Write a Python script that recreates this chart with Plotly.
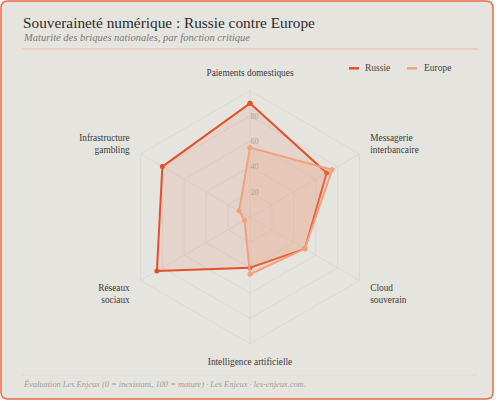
import plotly.graph_objects as go

W, H = 500, 407

categories = ["Paiements domestiques", "Messagerie<br>interbancaire", "Cloud<br>souverain",
              "Intelligence artificielle", "Réseaux<br>sociaux", "Infrastructure<br>gambling"]
russie = [90, 70, 50, 40, 85, 80]
europe = [55, 75, 50, 45, 5, 10]
series_names = ["Russie", "Europe"]
radial_ticks = [20, 40, 60, 80]

title = "Souveraineté numérique : Russie contre Europe"
subtitle = "Maturité des briques nationales, par fonction critique"
footer = "Évaluation Les Enjeux (0 = inexistant, 100 = mature) · Les Enjeux · les-enjeux.com."

C_RU = "#e5502b"
C_EU = "#f0a27c"
BG = "#e6e4df"
SERIF = "Liberation Serif, DejaVu Serif, serif"

def px(x):
    return x / W

def py(y):
    return 1 - y / H

fig = go.Figure()

def closed(v):
    return list(v) + [v[0]]

fig.add_trace(go.Scatterpolar(
    r=closed(russie), theta=closed(categories), name=series_names[0],
    mode="lines+markers", fill="toself", fillcolor="rgba(232,80,45,0.11)",
    line=dict(color=C_RU, width=2), marker=dict(size=5, color=C_RU),
))
fig.add_trace(go.Scatterpolar(
    r=closed(europe), theta=closed(categories), name=series_names[1],
    mode="lines+markers", fill="toself", fillcolor="rgba(240,160,120,0.22)",
    line=dict(color=C_EU, width=2), marker=dict(size=5, color=C_EU),
))

cx, cy, R = 250, 217.2, 126.5

# card background with rounded corners
x0, y0, x1, y1, rr = 1, 1, 493, 399, 7
def P(x, y):
    return f"{px(x):.5f},{py(y):.5f}"
card_path = (f"M {P(x0+rr, y0)} L {P(x1-rr, y0)} Q {P(x1, y0)} {P(x1, y0+rr)} "
             f"L {P(x1, y1-rr)} Q {P(x1, y1)} {P(x1-rr, y1)} L {P(x0+rr, y1)} "
             f"Q {P(x0, y1)} {P(x0, y1-rr)} L {P(x0, y0+rr)} Q {P(x0, y0)} {P(x0+rr, y0)} Z")

shapes = [
    dict(type="path", path=card_path, xref="paper", yref="paper",
         fillcolor=BG, line=dict(color="#ec6a48", width=1.5), layer="below"),
    dict(type="line", xref="paper", yref="paper", x0=px(22), x1=px(478), y0=py(49), y1=py(49),
         line=dict(color="#f0b8a2", width=1)),
    dict(type="line", xref="paper", yref="paper", x0=px(22), x1=px(478), y0=py(375), y1=py(375),
         line=dict(color="#dcd9d3", width=1)),
    dict(type="line", xref="paper", yref="paper", x0=px(349), x1=px(359), y0=py(68.3), y1=py(68.3),
         line=dict(color=C_RU, width=2.5)),
    dict(type="line", xref="paper", yref="paper", x0=px(407), x1=px(417), y0=py(68.3), y1=py(68.3),
         line=dict(color=C_EU, width=2.5)),
]

annotations = [
    dict(text=title, x=px(21), y=py(22), xanchor="left", yanchor="middle", showarrow=False,
         xref="paper", yref="paper", font=dict(family=SERIF, size=15.3, color="#2b2b2b")),
    dict(text=f"<i>{subtitle}</i>", x=px(21), y=py(37.5), xanchor="left", yanchor="middle",
         showarrow=False, xref="paper", yref="paper", font=dict(family=SERIF, size=10.5, color="#7a7873")),
    dict(text=f"<i>{footer}</i>", x=px(21), y=py(384), xanchor="left", yanchor="middle",
         showarrow=False, xref="paper", yref="paper", font=dict(family=SERIF, size=8.4, color="#a09d97")),
    dict(text=series_names[0], x=px(363), y=py(68), xanchor="left", yanchor="middle", showarrow=False,
         xref="paper", yref="paper", font=dict(family=SERIF, size=9.5, color="#444")),
    dict(text=series_names[1], x=px(421.5), y=py(68), xanchor="left", yanchor="middle", showarrow=False,
         xref="paper", yref="paper", font=dict(family=SERIF, size=9.5, color="#444")),
]

fig.update_layout(
    width=W, height=H,
    paper_bgcolor="white", plot_bgcolor="rgba(0,0,0,0)",
    margin=dict(l=0, r=0, t=0, b=0),
    showlegend=False,
    shapes=shapes, annotations=annotations,
    polar=dict(
        domain=dict(x=[px(cx - R), px(cx + R)], y=[py(cy + R), py(cy - R)]),
        bgcolor="rgba(0,0,0,0)",
        gridshape="linear",
        radialaxis=dict(range=[0, 100], tickvals=radial_ticks, showline=False, angle=90,
                        tickangle=90, ticks="", gridcolor="#dcd9d3", gridwidth=1,
                        tickfont=dict(family=SERIF, size=8, color="#a8a59f")),
        angularaxis=dict(direction="clockwise", rotation=90, gridcolor="#dcd9d3",
                         linecolor="#dcd9d3", linewidth=1, ticks="outside", ticklen=10,
                         tickcolor="rgba(0,0,0,0)",
                         tickfont=dict(family=SERIF, size=9.3, color="#3a3a3a")),
    ),
)

fig.write_html("out.html", config={"displayModeBar": False},
               post_script="document.body.style.margin='0';")
